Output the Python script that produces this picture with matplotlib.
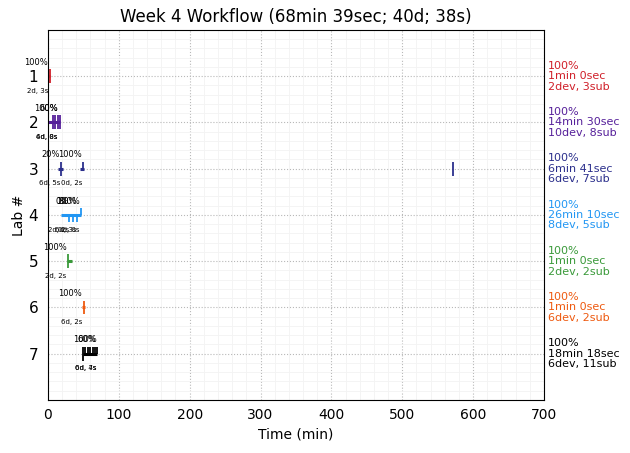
import matplotlib
matplotlib.use("Agg")
import matplotlib.pyplot as plt
from matplotlib.ticker import AutoMinorLocator

labs = [1, 2, 3, 4, 5, 6, 7]
colors = ['#d0202a', '#56209a', '#2b2f8c', '#2196f3', '#3a9a3a', '#ee5a10', '#000000']

# work sessions per lab: (start min, end min)
sessions = {
    1: [(1.8, 2.8)],
    2: [(0.0, 17.0)],
    3: [(14.0, 21.0), (46.0, 51.0)],
    4: [(18.0, 47.0)],
    5: [(26.5, 33.5)],
    6: [(48.0, 53.0)],
    7: [(50.0, 69.5)],
}

# submissions: (time min, kind) kind: 'both', 'up', 'down'
submissions = {
    1: [(2.3, 'both')],
    2: [(7.8, 'both'), (10.6, 'both'), (14.8, 'both'), (16.9, 'both')],
    3: [(18.3, 'both'), (49.4, 'up'), (571.6, 'both')],
    4: [(30.0, 'down'), (35.7, 'down'), (40.5, 'down'), (46.6, 'up')],
    5: [(29.0, 'both')],
    6: [(50.8, 'both')],
    7: [(50.0, 'both'), (53.0, 'up'), (56.0, 'up'), (59.5, 'up'), (63.0, 'up'), (66.0, 'up'), (69.0, 'up')],
}

# per-session annotations: (time min, pass %, devs/subs)
notes = {
    1: [(0.0, '100%', '2d, 3s')],
    2: [(14.0, '100%', '4d, 0s'), (14.0, '60%', '6d, 8s')],
    3: [(17.0, '20%', '6d, 5s'), (48.5, '100%', '0d, 2s')],
    4: [(30.0, '0%', '2d, 2s'), (40.5, '80%', '6d, 3s'), (45.0, '100%', '0d, 0s')],
    5: [(26.5, '100%', '2d, 2s')],
    6: [(48.0, '100%', '6d, 2s')],
    7: [(69.0, '100%', '6d, 7s'), (68.0, '60%', '0d, 4s')],
}

summary = [
    ('100%', '1min 0sec', '2dev, 3sub'),
    ('100%', '14min 30sec', '10dev, 8sub'),
    ('100%', '6min 41sec', '6dev, 7sub'),
    ('100%', '26min 10sec', '8dev, 5sub'),
    ('100%', '1min 0sec', '2dev, 2sub'),
    ('100%', '1min 0sec', '6dev, 2sub'),
    ('100%', '18min 18sec', '6dev, 11sub'),
]

title = 'Week 4 Workflow (68min 39sec; 40d; 38s)'

fig = plt.figure(figsize=(6.3, 4.53), dpi=100)
ax = fig.add_axes([0.076, 0.117, 0.7875, 0.817])

tick_h = 0.15
for lab, col in zip(labs, colors):
    for s, e in sessions[lab]:
        ax.hlines(lab, s, e, color=col, lw=2.2)
    for t, kind in submissions[lab]:
        lo = lab - tick_h if kind in ('both', 'up') else lab
        hi = lab + tick_h if kind in ('both', 'down') else lab
        ax.vlines(t, lo, hi, color=col, lw=1.3)
    for t, pct, ds in notes[lab]:
        ax.text(t, lab - 0.2, pct, ha='right', va='bottom', fontsize=6, color='black')
        ax.text(t, lab + 0.25, ds, ha='right', va='top', fontsize=5, color='black')

for lab, col, (p, dur, cnt) in zip(labs, colors, summary):
    ax.text(1.008, lab, f'{p}\n{dur}\n{cnt}', transform=ax.get_yaxis_transform(),
            ha='left', va='center', fontsize=8, color=col, linespacing=1.05)

ax.set_xlim(0, 700)
ax.set_ylim(8, 0)
ax.set_yticks(labs)
ax.set_yticklabels([str(l) for l in labs], fontsize=11)
ax.xaxis.set_minor_locator(AutoMinorLocator())
ax.yaxis.set_minor_locator(AutoMinorLocator())
ax.tick_params(which='both', length=0)
ax.tick_params(axis='y', pad=7)
ax.tick_params(axis='x', pad=6)
ax.grid(True, which='major', linestyle=':', color='#b8b8b8', lw=0.8)
ax.grid(True, which='minor', linestyle='-', color='#f3f3f3', lw=0.6)
ax.set_axisbelow(True)
ax.set_title(title, fontsize=12)
ax.set_xlabel('Time (min)')
ax.set_ylabel('Lab #', labelpad=2)

fig.savefig('out.png', dpi=100)
